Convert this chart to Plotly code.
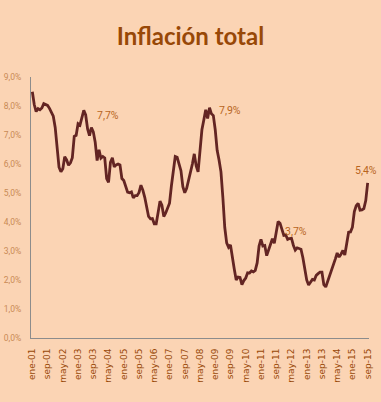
import plotly.graph_objects as go

month_names = ["ene", "feb", "mar", "abr", "may", "jun", "jul", "ago", "sep", "oct", "nov", "dic"]
years = list(range(2001, 2016))

infl_2001 = [8.49, 8.05, 7.81, 7.91, 7.87, 7.93, 8.08, 8.04, 8.02, 7.92, 7.78, 7.65]
infl_2002 = [7.26, 6.63, 5.89, 5.73, 5.84, 6.25, 6.14, 5.96, 6.04, 6.22, 6.95, 6.99]
infl_2003 = [7.39, 7.34, 7.60, 7.85, 7.69, 7.21, 6.98, 7.26, 7.11, 6.75, 6.12, 6.49]
infl_2004 = [6.20, 6.26, 6.21, 5.50, 5.37, 6.06, 6.21, 5.90, 5.97, 6.00, 5.97, 5.50]
infl_2005 = [5.43, 5.25, 5.03, 5.01, 5.04, 4.83, 4.91, 4.91, 5.02, 5.27, 5.10, 4.85]
infl_2006 = [4.56, 4.19, 4.11, 4.12, 3.94, 3.94, 4.32, 4.72, 4.58, 4.19, 4.31, 4.48]
infl_2007 = [4.65, 5.25, 5.78, 6.26, 6.23, 6.03, 5.77, 5.22, 5.01, 5.16, 5.41, 5.69]
infl_2008 = [6.00, 6.35, 5.93, 5.73, 6.39, 7.18, 7.52, 7.87, 7.57, 7.94, 7.73, 7.67]
infl_2009 = [7.18, 6.47, 6.14, 5.73, 4.85, 3.81, 3.28, 3.13, 3.21, 2.72, 2.37, 2.00]
infl_2010 = [2.10, 2.09, 1.84, 1.98, 2.07, 2.25, 2.24, 2.31, 2.28, 2.33, 2.59, 3.17]
infl_2011 = [3.40, 3.17, 3.19, 2.84, 3.02, 3.23, 3.42, 3.27, 3.73, 4.02, 3.96, 3.73]
infl_2012 = [3.54, 3.55, 3.40, 3.43, 3.44, 3.20, 3.03, 3.11, 3.08, 3.06, 2.77, 2.44]
infl_2013 = [2.00, 1.83, 1.91, 2.02, 2.00, 2.16, 2.22, 2.27, 2.27, 1.84, 1.76, 1.94]
infl_2014 = [2.13, 2.32, 2.51, 2.72, 2.93, 2.79, 2.89, 3.02, 2.86, 3.29, 3.65, 3.66]
infl_2015 = [3.82, 4.36, 4.56, 4.64, 4.41, 4.42, 4.46, 4.74, 5.35]

yearly = [infl_2001, infl_2002, infl_2003, infl_2004, infl_2005, infl_2006, infl_2007,
          infl_2008, infl_2009, infl_2010, infl_2011, infl_2012, infl_2013, infl_2014, infl_2015]

categories = []
values = []
for yr, vals in zip(years, yearly):
    for i, v in enumerate(vals):
        categories.append(f"{month_names[i]}-{str(yr)[2:]}")
        values.append(v)

x_tick_labels = categories[::8]
y_tick_vals = [0, 1, 2, 3, 4, 5, 6, 7, 8, 9]
y_tick_text = ["0,0%", "1,0%", "2,0%", "3,0%", "4,0%", "5,0%", "6,0%", "7,0%", "8,0%", "9,0%"]

label_texts = ["7,7%", "7,9%", "3,7%", "5,4%"]
label_x = [39.5, 103.5, 138.5, 175.0]
label_y = [7.66, 7.86, 3.66, 5.79]

bg = "#FBD4B4"

fig = go.Figure()
fig.add_trace(go.Scatter(
    x=categories, y=values, mode="lines",
    line=dict(color="#632523", width=2.8),
    hoverinfo="skip", showlegend=False,
))

for t, xx, yy in zip(label_texts, label_x, label_y):
    fig.add_annotation(x=xx, y=yy, xref="x", yref="y", text=t, showarrow=False,
                       font=dict(family="Roboto, sans-serif", size=10.5, color="#B8651E"))

fig.update_layout(
    width=381, height=402,
    paper_bgcolor=bg, plot_bgcolor=bg,
    margin=dict(l=31, r=12, t=77, b=64),
    title=dict(text="<b>Inflación total</b>", x=0.5, xanchor="center", y=0.91, yanchor="middle",
               font=dict(family="Lato, Roboto, sans-serif", size=24, color="#984807")),
    xaxis=dict(
        type="category", range=[-0.7, 176.7], automargin=False,
        tickmode="array", tickvals=x_tick_labels, ticktext=x_tick_labels,
        tickangle=-90, showgrid=False, zeroline=False,
        showline=True, linecolor="#8C8C8C", linewidth=1,
        ticks="", ticklabelstandoff=6,
        tickfont=dict(family="DejaVu Sans, Verdana, sans-serif", size=9, color="#984807"),
    ),
    yaxis=dict(
        range=[0, 9], tickmode="array", tickvals=y_tick_vals, ticktext=y_tick_text,
        automargin=False, showgrid=False, zeroline=False,
        showline=True, linecolor="#8C8C8C", linewidth=1,
        ticks="", ticklabelstandoff=7,
        tickfont=dict(family="Roboto, sans-serif", size=8.5, color="#C98A55"),
    ),
)

fig.write_html("out.html", config={"displayModeBar": False},
               post_script="document.body.style.margin='0px';")
